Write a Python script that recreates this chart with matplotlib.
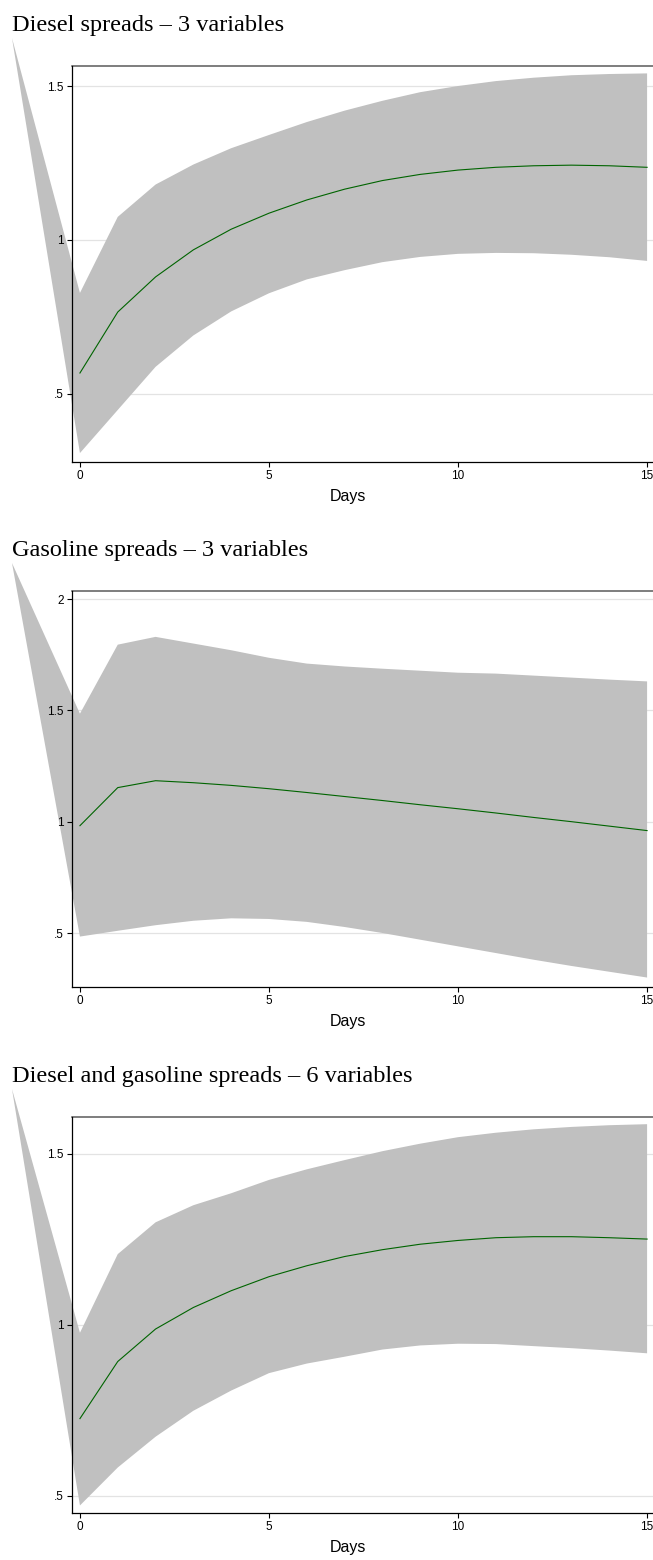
import matplotlib
matplotlib.use("Agg")
import matplotlib.pyplot as plt
import numpy as np

days = list(range(16))

titles = ["Diesel spreads \u2013 3 variables",
          "Gasoline spreads \u2013 3 variables",
          "Diesel and gasoline spreads \u2013 6 variables"]

# Panel 1: diesel, 3 variables
diesel_irf = [0.568, 0.766, 0.880, 0.968, 1.035, 1.087, 1.130, 1.165,
              1.193, 1.213, 1.227, 1.236, 1.241, 1.243, 1.241, 1.236]
diesel_upper = [0.828, 1.075, 1.180, 1.245, 1.298, 1.341, 1.383, 1.420,
                1.452, 1.480, 1.500, 1.516, 1.527, 1.535, 1.539, 1.541]
diesel_lower = [0.308, 0.448, 0.588, 0.690, 0.768, 0.827, 0.872, 0.902,
                0.928, 0.945, 0.955, 0.958, 0.957, 0.952, 0.944, 0.932]

# Panel 2: gasoline, 3 variables
gas_irf = [0.982, 1.153, 1.184, 1.175, 1.163, 1.148, 1.131, 1.113,
           1.095, 1.076, 1.058, 1.039, 1.019, 1.000, 0.980, 0.960]
gas_upper = [1.485, 1.795, 1.830, 1.800, 1.770, 1.736, 1.710, 1.697,
             1.687, 1.678, 1.669, 1.665, 1.656, 1.647, 1.638, 1.630]
gas_lower = [0.484, 0.510, 0.535, 0.555, 0.566, 0.563, 0.550, 0.527,
             0.500, 0.470, 0.440, 0.410, 0.380, 0.352, 0.326, 0.300]

# Panel 3: diesel and gasoline, 6 variables
both_irf = [0.726, 0.893, 0.988, 1.051, 1.100, 1.141, 1.173, 1.200,
            1.220, 1.236, 1.247, 1.255, 1.258, 1.258, 1.255, 1.251]
both_upper = [0.977, 1.207, 1.300, 1.350, 1.385, 1.424, 1.455, 1.482,
              1.508, 1.530, 1.549, 1.562, 1.572, 1.579, 1.584, 1.587]
both_lower = [0.472, 0.583, 0.673, 0.749, 0.808, 0.859, 0.887, 0.907,
              0.928, 0.940, 0.945, 0.944, 0.938, 0.932, 0.925, 0.917]

yticks = [[0.5, 1.0, 1.5], [0.5, 1.0, 1.5, 2.0], [0.5, 1.0, 1.5]]
ytick_labels = [[".5", "1", "1.5"], [".5", "1", "1.5", "2"], [".5", "1", "1.5"]]
xticks = [0, 5, 10, 15]
xtick_labels = ["0", "5", "10", "15"]
xlabel = "Days"

panels = [(diesel_irf, diesel_upper, diesel_lower),
          (gas_irf, gas_upper, gas_lower),
          (both_irf, both_upper, both_lower)]
ylims = [(0.279, 1.565), (0.2575, 2.036), (0.450, 1.608)]

W, H = 653, 1560
fig = plt.figure(figsize=(W / 100, H / 100), dpi=100)

ax_left_px = 72
ax_w_px = 594
ax_h_px = 396
ax_tops = [66, 591, 1117]
title_base = [31, 556, 1082]

BAND = "#c0c0c0"
LINE = "#006400"
sans = ["Liberation Sans", "DejaVu Sans"]
serif = ["Liberation Serif", "DejaVu Serif"]

for i, (irf, up, lo) in enumerate(panels):
    top = ax_tops[i]
    ax = fig.add_axes([ax_left_px / W, (H - top - ax_h_px) / H,
                       ax_w_px / W, ax_h_px / H])
    ax.set_xlim(-0.21, 15.5)
    ax.set_ylim(*ylims[i])
    ax.set_axisbelow(False)
    ax.grid(False)
    for yt in yticks[i]:
        ax.axhline(yt, color="#e3e3e3", linewidth=0.9, zorder=0.5)

    # band polygon, including the stray vertex outside the plot region
    apex_disp = ax.transAxes.transform((-60 / ax_w_px, 1 + 28 / ax_h_px))
    apex = ax.transData.inverted().transform(apex_disp)
    px = [apex[0]] + list(days) + list(days[::-1])
    py = [apex[1]] + list(up) + list(lo[::-1])
    ax.fill(px, py, facecolor=BAND, edgecolor="none", clip_on=False,
            zorder=1)
    ax.plot(days, irf, color=LINE, linewidth=0.8, zorder=3)

    ax.set_xticks(xticks)
    ax.set_xticklabels(xtick_labels, fontfamily=sans, fontsize=8.5)
    ax.set_yticks(yticks[i])
    ax.set_yticklabels(ytick_labels[i], fontfamily=sans, fontsize=8.5)
    ax.tick_params(axis="both", direction="out", length=3.6, width=0.8,
                   color="black", pad=2.5)
    for s in ["left", "bottom"]:
        ax.spines[s].set_color("black")
        ax.spines[s].set_linewidth(0.9)
        ax.spines[s].set_zorder(4)
    ax.spines["top"].set_color("#5a5a5a")
    ax.spines["top"].set_linewidth(1.1)
    ax.spines["right"].set_visible(False)

    fig.text(348 / W, 1 - (top + ax_h_px + 39) / H, xlabel,
             ha="center", va="baseline", fontfamily=sans, fontsize=11.5)
    fig.text(12 / W, 1 - title_base[i] / H, titles[i], ha="left",
             va="baseline", fontfamily=serif, fontsize=17.5)

fig.savefig("out.png", dpi=100)
